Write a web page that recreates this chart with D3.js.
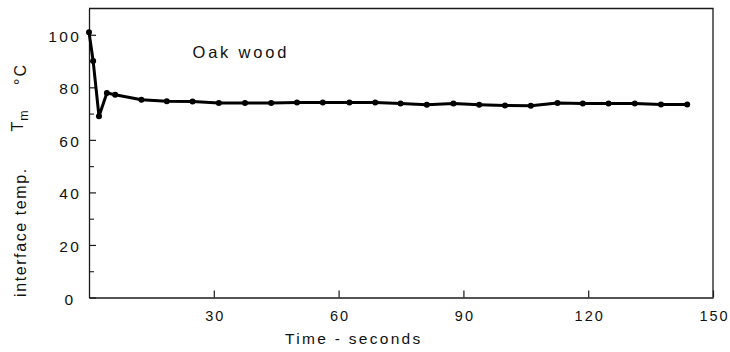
<!DOCTYPE html>
<html>
<head>
<meta charset="utf-8">
<script src="https://cdn.jsdelivr.net/npm/d3@7"></script>
<style>
  html, body { margin: 0; padding: 0; background: #fff; }
  svg { display: block; }
  text { font-family: "Liberation Sans", Arial, sans-serif; fill: #111; }
</style>
</head>
<body>
<svg id="chart" width="730" height="352"></svg>
<script>
// Data
const timeSec = [0, 1.0, 2.4, 4.3, 6.3, 12.6, 18.7, 24.9, 31.2, 37.5, 43.8, 50.0, 56.2, 62.6, 68.8, 74.9, 81.2, 87.6, 93.8, 100.0, 106.2, 112.6, 118.7, 124.9, 131.2, 137.5, 143.8];
const interfaceTemp = [101, 90, 69, 77.8, 77.2, 75.3, 74.7, 74.6, 74.0, 74.0, 74.0, 74.2, 74.2, 74.2, 74.2, 73.8, 73.4, 73.8, 73.4, 73.1, 73.0, 74.0, 73.8, 73.8, 73.8, 73.5, 73.5];
const xTicks = [30, 60, 90, 120, 150];
const yTicks = [0, 20, 40, 60, 80, 100];
const yMinorTicks = [10, 30, 50, 70, 90];
const xDomain = [0, 150];
const yDomain = [0, 110];
const seriesLabel = "Oak wood";
const xTitle = "Time - seconds";

const W = 730, H = 352;
const margin = { left: 89, right: 17, top: 8.5, bottom: 54.5 };
const svg = d3.select("#chart");

const x = d3.scaleLinear().domain(xDomain).range([margin.left, W - margin.right]);
const y = d3.scaleLinear().domain(yDomain).range([H - margin.bottom, margin.top]);

const ink = "#1a1a1a";

// frame (top and right borders)
svg.append("path")
  .attr("d", `M${x(xDomain[0])},${y(yDomain[1])}H${x(xDomain[1])}V${y(yDomain[0])}`)
  .attr("fill", "none").attr("stroke", ink).attr("stroke-width", 1.3);

// x axis
const gx = svg.append("g")
  .attr("transform", `translate(0,${y(yDomain[0])})`)
  .call(d3.axisBottom(x).tickValues(xTicks).tickSizeInner(-7).tickSizeOuter(0).tickPadding(13.5));
gx.select(".domain").attr("stroke", ink).attr("stroke-width", 1.3);
gx.selectAll(".tick line").attr("stroke", ink).attr("stroke-width", 1.2);
gx.selectAll(".tick text")
  .style("font-size", "14.5px").style("letter-spacing", "2px")
  .attr("font-family", null).attr("fill", "#111")
  .attr("dx", "1px");

// y axis major
const lsY = 2.5;
const gy = svg.append("g")
  .attr("transform", `translate(${x(xDomain[0])},0)`)
  .call(d3.axisLeft(y).tickValues(yTicks).tickSizeInner(-7).tickSizeOuter(0).tickPadding(10 - lsY));
gy.select(".domain").attr("stroke", ink).attr("stroke-width", 1.3);
gy.selectAll(".tick line").attr("stroke", ink).attr("stroke-width", 1.2);
gy.selectAll(".tick text")
  .style("font-size", "15.5px").style("letter-spacing", lsY + "px")
  .attr("font-family", null).attr("fill", "#111")
  .attr("dy", "0.42em")
  .attr("dx", d => d === 0 ? -6 : 0);

// y axis minor ticks
const gym = svg.append("g")
  .attr("transform", `translate(${x(xDomain[0])},0)`)
  .call(d3.axisLeft(y).tickValues(yMinorTicks).tickSizeInner(-5).tickSizeOuter(0).tickFormat(""));
gym.select(".domain").remove();
gym.selectAll(".tick line").attr("stroke", ink).attr("stroke-width", 1.1);

// data line
const pts = timeSec.map((t, i) => [t, interfaceTemp[i]]);
svg.append("path")
  .datum(pts)
  .attr("fill", "none")
  .attr("stroke", "#000")
  .attr("stroke-width", 3)
  .attr("stroke-linejoin", "round")
  .attr("d", d3.line().x(d => x(d[0])).y(d => y(d[1])));

svg.append("g").selectAll("circle")
  .data(pts).join("circle")
  .attr("cx", d => x(d[0])).attr("cy", d => y(d[1]))
  .attr("r", 3).attr("fill", "#000");

// series label
svg.append("text")
  .attr("x", 192.5).attr("y", 57.5)
  .style("font-size", "16.5px").style("letter-spacing", "2.8px")
  .text(seriesLabel);

// x title
svg.append("text")
  .attr("x", 285).attr("y", 344)
  .style("font-size", "15.5px").style("letter-spacing", "2.3px")
  .text(xTitle);

// y title (rotated), in three parts
svg.append("text")
  .attr("transform", "translate(26,297) rotate(-90)")
  .style("font-size", "16px").style("letter-spacing", "1.6px")
  .text("interface temp.");
const yt2 = svg.append("text")
  .attr("transform", "translate(23,131.5) rotate(-90)")
  .style("font-size", "16px").style("letter-spacing", "1px");
yt2.append("tspan").text("T");
yt2.append("tspan").attr("dy", 5).style("font-size", "12.5px").text("m");
svg.append("text")
  .attr("transform", "translate(26,85) rotate(-90)")
  .style("font-size", "16px").style("letter-spacing", "2px")
  .text("°C");
</script>
</body>
</html>
